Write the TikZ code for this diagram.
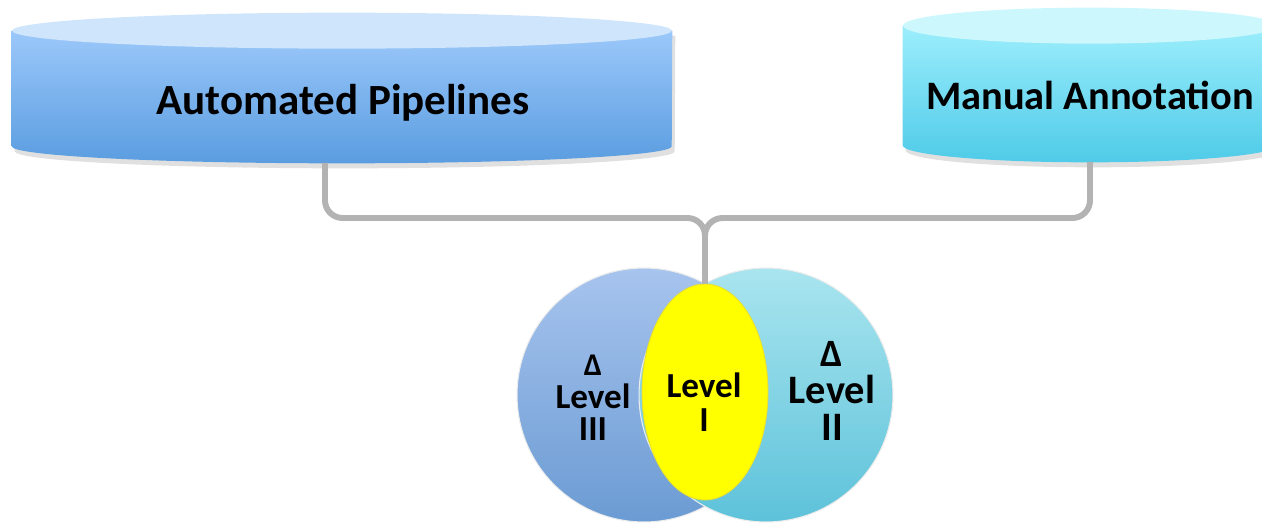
\documentclass[tikz,border=0pt]{standalone}
\usepackage{fontspec}
\setmainfont{Carlito}
\usetikzlibrary{shapes.geometric}
\definecolor{pipetop}{HTML}{CFE5FC}
\definecolor{pipehi}{HTML}{9CC8FA}
\definecolor{pipelo}{HTML}{5A9DE0}
\definecolor{mantop}{HTML}{CBF7FD}
\definecolor{manhi}{HTML}{9CEEFC}
\definecolor{manlo}{HTML}{4FCBE8}
\definecolor{threehi}{HTML}{A7C4EE}
\definecolor{threelo}{HTML}{6B9BD3}
\definecolor{twohi}{HTML}{A9E5EF}
\definecolor{twolo}{HTML}{5DC2DA}
\definecolor{linkgray}{HTML}{B3B3B3}
\definecolor{coreyellow}{HTML}{FFFF00}

\begin{document}
\begin{tikzpicture}[x=0.02cm, y=0.02cm,
  cylbody/.style={rectangle, inner sep=0pt},
  cyltext/.style={font=\fontsize{23}{23}\selectfont\bfseries, text=black},
  venn/.style={circle, minimum size=5.08cm, draw=white!85!gray, line width=0.6pt},
  core/.style={ellipse, minimum width=2.52cm, minimum height=4.32cm, fill=coreyellow, draw=yellow!80!gray, line width=0.5pt},
  lvltext/.style={align=center, text=black},
  link/.style={linkgray, line width=3.4pt, rounded corners=10},
]
  \useasboundingbox (0,0) rectangle (1262,524);

  % sources
  \node[cylbody, minimum width=13.2cm, minimum height=2.3cm] (pipes) at (342,435.5) {};
  \node[cylbody, minimum width=7.48cm, minimum height=2.38cm] (manual) at (1090,438.5) {};

  \fill[black, opacity=.12] ([shift={(3,-5)}]pipes.north west) -- ([shift={(3,-5)}]pipes.south west) arc[start angle=180, end angle=360, x radius=330, y radius=17] -- ([shift={(3,-5)}]pipes.north east) -- cycle;
  \shade[top color=pipehi, bottom color=pipelo] (pipes.north west) -- (pipes.south west) arc[start angle=180, end angle=360, x radius=330, y radius=17] -- (pipes.north east) -- cycle;
  \fill[pipetop] (pipes.north) ellipse[x radius=330, y radius=18];

  \fill[black, opacity=.12] ([shift={(3,-5)}]manual.north west) -- ([shift={(3,-5)}]manual.south west) arc[start angle=180, end angle=360, x radius=187, y radius=17] -- ([shift={(3,-5)}]manual.north east) -- cycle;
  \shade[top color=manhi, bottom color=manlo] (manual.north west) -- (manual.south west) arc[start angle=180, end angle=360, x radius=187, y radius=17] -- (manual.north east) -- cycle;
  \fill[mantop] (manual.north) ellipse[x radius=187, y radius=18];

  \node[cyltext, font=\fontsize{24.5}{24.5}\selectfont\bfseries] (pipeslbl) at (343,421) {Automated Pipelines};
  \node[cyltext] (manuallbl) at (1090,429) {Manual Annotation};

  % levels
  \node[venn, top color=threehi, bottom color=threelo] (lvl3) at (644,129) {};
  \node[venn, top color=twohi, bottom color=twolo] (lvl2) at (766,129) {};
  \node[core] (lvl1) at (705,132) {};

  \node[lvltext, font=\fontsize{20}{18.5}\selectfont\bfseries] (lvl3lbl) at (593,126) {{\fontsize{18}{18}\selectfont Δ}\\Level\\III};
  \node[lvltext, font=\fontsize{23}{21}\selectfont\bfseries] (lvl2lbl) at (832,133) {{\fontsize{22}{22}\selectfont Δ}\\Level\\II};
  \node[lvltext, font=\fontsize{20}{19}\selectfont\bfseries] (lvl1lbl) at (704,122) {Level\\I};

  % connectors
  \coordinate (pipesout) at (325,361);
  \coordinate (manualout) at (1090,362);
  \coordinate (fork) at (705,306);
  \draw[link] (pipesout) |- (fork) -- (lvl1.north);
  \draw[link] (manualout) |- (fork) -- (lvl1.north);
\end{tikzpicture}
\end{document}
